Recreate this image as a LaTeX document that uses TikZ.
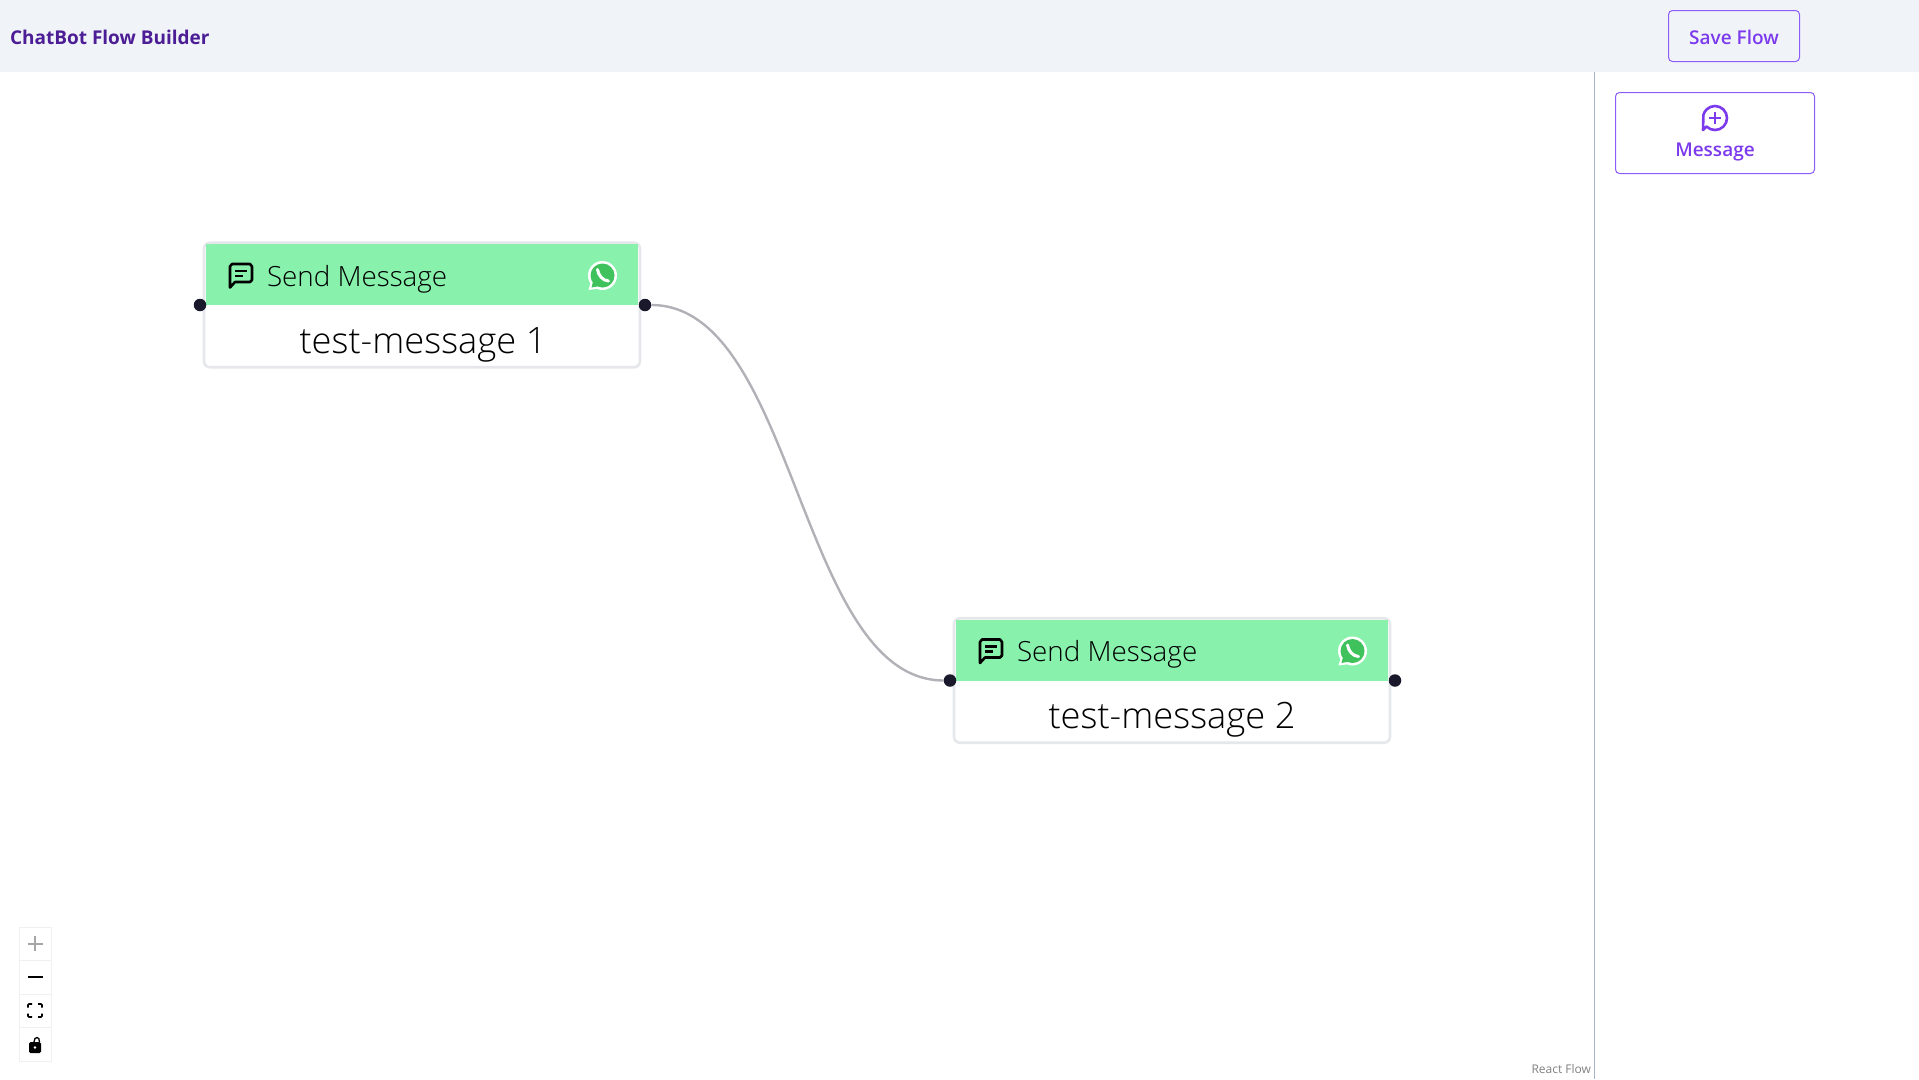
\documentclass[tikz,border=0pt]{standalone}
\usepackage{fontspec}
\setmainfont{Open Sans}
\newfontfamily\lightfont{Open Sans Light}
\IfFontExistsTF{Open Sans Semibold}{\newfontfamily\semifont{Open Sans Semibold}}{\newfontfamily\semifont{Open Sans}[FakeBold=0.4]}
\usetikzlibrary{arrows.meta,positioning}
\definecolor{topbar}{HTML}{F0F4F9}
\definecolor{titleink}{HTML}{4C1D95}
\definecolor{violetink}{HTML}{7C3AED}
\definecolor{violetline}{HTML}{8B5CF6}
\definecolor{railblue}{HTML}{A8B4C8}
\definecolor{cardline}{HTML}{E5E7EB}
\definecolor{headgreen}{HTML}{88F2AC}
\definecolor{portink}{HTML}{1A192B}
\definecolor{edgegray}{HTML}{B1B1B7}
\definecolor{waverde}{HTML}{3FC25C}
\begin{document}
\begin{tikzpicture}[
    x=1pt, y=-1pt,
    inner sep=0pt, outer sep=0pt,
    card/.style={
        draw=cardline,
        line width=2.6pt,
        fill=white,
        rounded corners=6pt,
        minimum width=436pt,
        minimum height=124.5pt
    },
    headbar/.style={fill=headgreen, minimum width=432pt, minimum height=61pt},
    headtext/.style={font=\fontsize{27.8}{33}\selectfont\lightfont, text=black},
    bodytext/.style={font=\fontsize{36.3}{44}\selectfont\lightfont, text=black},
    port/.style={circle, fill=portink, minimum size=12.5pt},
    flatbtn/.style={
        draw=violetline,
        line width=1pt,
        rounded corners=4pt,
        text=violetink,
        font=\fontsize{19}{23}\selectfont\semifont
    },
    ctrl/.style={
        draw=black!6,
        fill=white,
        minimum width=32pt,
        minimum height=33.5pt
    },
    chaticon/.pic={
        \draw[line width=2.6pt, line join=round]
            (-11,12) -- (-11,-9) -- (-9,-11.5) -- (9,-11.5) -- (11,-9)
            -- (11,4.5) -- (9,6.5) -- (-6,6.5) -- cycle;
        \draw[line width=2.2pt] (-6,-4.5) -- (6,-4.5) (-6,0.5) -- (2,0.5);
    },
    waicon/.pic={
        \fill[white] (0,0) circle (14.5) (-14,14.5) -- (-11,4) -- (-3,13) -- cycle;
        \fill[waverde] (0,0) circle (12) (-11,12) -- (-9,4) -- (-3,10.5) -- cycle;
        \draw[white, line width=3pt, line cap=round] (-5,-6) .. controls (-4,0) and (0,5) .. (6,5.5);
    },
    addicon/.pic={
        \draw[violetink, line width=2.6pt, line join=round] (-8.5,8.5)
            arc[start angle=135, end angle=-165, radius=12] -- (-12,12) -- cycle;
        \draw[violetink, line width=2.6pt] (-6,0) -- (6,0) (0,-6) -- (0,6);
    },
    plusicon/.pic={\draw[black!35, line width=2pt] (-7.5,0) -- (7.5,0) (0,-7.5) -- (0,7.5);},
    minusicon/.pic={\draw[black, line width=2pt] (-7.5,0) -- (7.5,0);},
    fiticon/.pic={
        \draw[line width=1.6pt, rounded corners=1pt]
            (-7,-3) -- (-7,-6.5) -- (-3,-6.5) (3,-6.5) -- (7,-6.5) -- (7,-3)
            (7,3) -- (7,6.5) -- (3,6.5) (-3,6.5) -- (-7,6.5) -- (-7,3);
    },
    lockicon/.pic={
        \fill[rounded corners=1.5pt] (-6,-2) rectangle (6,9);
        \draw[line width=1.3pt] (-1,-2) .. controls (-1,-8) and (5,-8) .. (4.5,-2);
        \fill[white] (0,3.5) circle (1.3);
    }
]
\useasboundingbox (0,0) rectangle (1919,1079);

% top bar
\node[fill=topbar, minimum width=1919pt, minimum height=72pt, anchor=north west] (topstrip) at (0,0) {};
\node[anchor=west, text=titleink, font=\fontsize{19}{23}\selectfont\bfseries] (apptitle) at (10,37) {ChatBot Flow Builder};
\node[flatbtn, minimum width=131pt, minimum height=51pt] (savebtn) at (1734,36) {};
\node[text=violetink, font=\fontsize{19}{23}\selectfont\semifont] (savelabel) at (1734,37) {Save Flow};

% side panel
\coordinate (railtop) at (1594.5,72);
\coordinate (railend) at (1594.5,1079);
\draw[railblue, line width=1.2pt] (railtop) -- (railend);
\node[flatbtn, minimum width=199pt, minimum height=81pt] (addbtn) at (1715,133) {};
\node[text=violetink, font=\fontsize{19}{23}\selectfont\semifont] (addlabel) at (1715,152) {Message};
\pic at (1715,118) {addicon};

% first card
\node[card] (card1) at (422,305) {};
\node[headbar, below=1.5pt of card1.north] (head1) {};
\node[headtext, anchor=west] (sendlabel1) at (267,279) {Send Message};
\node[bodytext] (msg1) at (423,344.5) {test-message 1};
\pic at (241,275.5) {chaticon};
\pic at (602.5,275.5) {waicon};
\node[port] (in1) at (200,305) {};
\node[port] (out1) at (645,305) {};

% second card
\node[card] (card2) at (1172,680.5) {};
\node[headbar, below=1.5pt of card2.north] (head2) {};
\node[headtext, anchor=west] (sendlabel2) at (1017,654.5) {Send Message};
\node[bodytext] (msg2) at (1172,720) {test-message 2};
\pic at (991,651) {chaticon};
\pic at (1352.5,651) {waicon};
\node[port] (in2) at (950,680.5) {};
\node[port] (out2) at (1395,680.5) {};

\draw[edgegray, line width=2.4pt] (out1.east) .. controls +(145,0) and +(-145,0) .. (in2.west);

% zoom controls
\node[ctrl] (zoomin) at (35,943.5) {};
\node[ctrl, below=0pt of zoomin] (zoomout) {};
\node[ctrl, below=0pt of zoomout] (fitview) {};
\node[ctrl, below=0pt of fitview] (lockview) {};
\pic at (zoomin.center) {plusicon};
\pic at (zoomout.center) {minusicon};
\pic at (fitview.center) {fiticon};
\pic at (lockview.center) {lockicon};

\node[anchor=east, text=black!50, font=\fontsize{12}{14}\selectfont] (flowmark) at (1591,1069) {React Flow};
\end{tikzpicture}
\end{document}
